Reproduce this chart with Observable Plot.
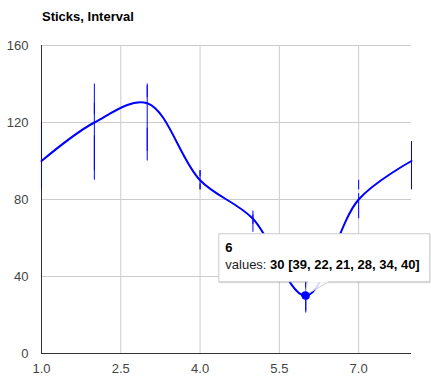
<!DOCTYPE html>
<html><head><meta charset="utf-8">
<script src="https://cdn.jsdelivr.net/npm/d3@7"></script>
<script src="https://cdn.jsdelivr.net/npm/@observablehq/plot@0.6"></script>
<style>
body{margin:0;background:#fff;font-family:Arial,"Liberation Sans",sans-serif;}
#wrap{position:relative;width:431px;height:378px;overflow:hidden;}
#title{position:absolute;left:42px;top:10px;font-weight:bold;font-size:13px;color:#000;line-height:13px;}
#chart{position:absolute;left:0;top:0;}
</style></head><body>
<div id="wrap"><div id="chart"></div><div id="title">Sticks, Interval</div></div>
<script>
const xs = [1, 2, 3, 4, 5, 6, 7, 8];
const values = [100, 120, 130, 90, 70, 30, 80, 100];
const i0 = [90, 95, 105, 85, 74, 39, 77, 90];
const i1 = [110, 130, 140, 95, 63, 22, 83, 110];
const i2 = [85, 90, 100, 85, 67, 21, 70, 85];
const i3 = [96, 113, 117, 88, 69, 28, 77, 95];
const i4 = [104, 124, 133, 92, 70, 34, 85, 102];
const i5 = [120, 140, 139, 95, 72, 40, 90, 110];
const xTicks = [1, 2.5, 4, 5.5, 7];
const yTicks = [0, 40, 80, 120, 160];
const hoverIndex = 5;
const seriesLabel = "values";

const points = xs.map((x, i) => ({x, y: values[i]}));
const intervals = [i0, i1, i2, i3, i4, i5];
const sticks = [];
xs.forEach((x, i) => {
  for (let k = 0; k < intervals.length; k += 2) {
    sticks.push({x, y1: intervals[k][i], y2: intervals[k + 1][i]});
  }
});

const chart = Plot.plot({
  width: 431,
  height: 378,
  marginTop: 45,
  marginBottom: 25,
  marginLeft: 41,
  marginRight: 20,
  style: {fontFamily: "Arial, 'Liberation Sans', sans-serif", fontSize: "13px", background: "#fff"},
  x: {domain: [1, 8]},
  y: {domain: [0, 160]},
  marks: [
    Plot.gridX(xTicks, {stroke: "#cccccc", strokeOpacity: 1}),
    Plot.gridY(yTicks, {stroke: "#cccccc", strokeOpacity: 1}),
    Plot.axisX({ticks: xTicks, tickSize: 0, tickPadding: 10, tickFormat: d3.format(".1f"), fill: "#444", label: null}),
    Plot.axisY({ticks: yTicks, tickSize: 0, tickPadding: 13, fill: "#444", label: null}),
    Plot.ruleY([0], {stroke: "#333"}),
    Plot.ruleX([1], {stroke: "#333"}),
    Plot.ruleX(sticks, {x: "x", y1: "y1", y2: "y2", stroke: "#0000ff", strokeWidth: 1}),
    Plot.line(points, {x: "x", y: "y", curve: "catmull-rom", stroke: "#0000ff", strokeWidth: 2}),
    Plot.dot([points[hoverIndex]], {x: "x", y: "y", r: 4, fill: "#0000ff", stroke: "none"})
  ]
});
document.getElementById("chart").appendChild(chart);

// tooltip anchored to hovered point
const px = chart.scale("x").apply(points[hoverIndex].x);
const py = chart.scale("y").apply(points[hoverIndex].y);
const svg = d3.select(chart);
const bw = 211, bh = 48;
const bx = px - 87, by = py - 62;
const g = svg.append("g").attr("text-anchor", "start").attr("font-family", "Arial, 'Liberation Sans', sans-serif");
g.append("rect").attr("x", bx + 1).attr("y", by + 2).attr("width", bw).attr("height", bh)
  .attr("fill", "#000").attr("fill-opacity", 0.08);
g.append("rect").attr("x", bx + 0.5).attr("y", by + 1).attr("width", bw + 1).attr("height", bh + 1)
  .attr("fill", "#000").attr("fill-opacity", 0.06);
g.append("path")
  .attr("d", `M${px + 2},${by + bh} L${px},${py} L${px + 24},${by + bh}`)
  .attr("fill", "#fff").attr("fill-opacity", 0.85).attr("stroke", "#ccc");
g.append("rect").attr("x", bx + 0.5).attr("y", by + 0.5).attr("width", bw).attr("height", bh)
  .attr("fill", "#fff").attr("stroke", "#cccccc");
g.append("rect").attr("x", px + 3).attr("y", by + bh - 1).attr("width", 20).attr("height", 2).attr("fill", "#fff");
g.append("text").attr("x", bx + 7).attr("y", by + 19).attr("text-anchor", "start")
  .attr("font-size", 13).attr("font-weight", "bold").attr("fill", "#000")
  .text(String(points[hoverIndex].x));
const t2 = g.append("text").attr("x", bx + 7).attr("y", by + 36).attr("text-anchor", "start")
  .attr("font-size", 13).attr("fill", "#222");
t2.append("tspan").text(seriesLabel + ": ");
t2.append("tspan").attr("font-weight", "bold").attr("fill", "#000")
  .text(`${values[hoverIndex]} [${intervals.map(a => a[hoverIndex]).join(", ")}]`);
// redraw dot on top
g.append("circle").attr("cx", px).attr("cy", py).attr("r", 4).attr("fill", "#0000ff");
</script>
</body></html>
